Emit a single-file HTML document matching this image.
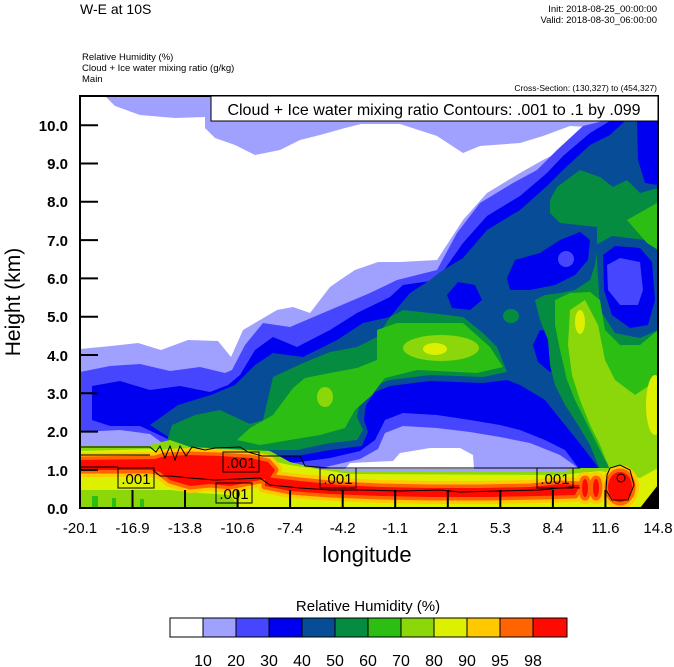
<!DOCTYPE html>
<html><head><meta charset="utf-8"><style>
html,body{margin:0;padding:0;background:#fff;}
svg{display:block;font-family:"Liberation Sans",Arial,sans-serif;}
</style></head><body>
<svg width="674" height="667" viewBox="0 0 674 667" xmlns="http://www.w3.org/2000/svg">
<defs>
<clipPath id="pc"><rect x="80" y="96" width="578" height="412"/></clipPath>
<g id="red">
<path d="M80,460 L155,459 L165,456 L190,455 L220,456 L250,458 L268,462 L275,470 L270,478 L250,482 L230,486 L210,484 L190,486 L170,480 L160,472 L150,470 L80,470Z"/>
<path d="M265,477 L300,481 L340,485 L380,487 L430,488 L480,488 L530,487 L560,484 L580,485 L575,495 L540,496 L490,497 L430,497 L380,496 L330,494 L290,491 L265,486Z"/>
<ellipse cx="620" cy="487" rx="12" ry="15"/>
<ellipse cx="585" cy="488" rx="3" ry="9"/>
<ellipse cx="596" cy="488" rx="3" ry="9"/>
</g>
</defs>
<g clip-path="url(#pc)">
<rect x="80" y="96" width="578" height="412" fill="#a0a0ff"/>
<path fill="#fff" d="M80,96 L105,96 L115,106 L140,115 L175,118 L205,117 L205,128 L215,138 L235,145 L255,155 L280,150 L300,140 L320,135 L345,128 L361,124 L400,124 L437,136 L463,153 L480,146 L520,143 L543,136 L570,126 L590,127 L575,145 L563,150 L543,160 L520,173 L487,193 L463,220 L437,260 L400,262 L378,262 L355,270 L340,280 L330,287 L310,313 L293,307 L277,310 L243,330 L231,357 L218,341 L188,340 L161,350 L138,343 L111,346 L80,349Z"/>
<!-- L30 -->
<path fill="#4646ff" d="M80,372 L110,366 L140,364 L170,371 L200,367 L225,373 L232,370 L245,345 L263,323 L290,327 L330,310 L370,293 L397,280 L437,270 L457,233 L480,203 L513,183 L537,170 L557,150 L583,126 L603,121 L658,96 L658,508 L80,508Z"/>
<path fill="#a0a0ff" d="M300,472 L330,466 L360,459 L378,449 L385,433 L403,426 L437,428 L470,432 L500,437 L530,443 L560,455 L584,472Z"/>
<path fill="#fff" d="M345,469 L350,463 L393,461 L400,453 L430,448 L460,448 L473,455 L474,469Z"/>
<path fill="#a0a0ff" d="M80,432 L120,430 L150,434 L165,445 L160,452 L80,452Z"/>
<!-- L40 -->
<path fill="#0000f0" d="M92,386 L120,381 L150,390 L180,386 L210,392 L228,385 L240,375 L255,350 L273,337 L297,347 L330,330 L357,313 L390,297 L403,285 L437,280 L463,243 L487,216 L520,196 L547,173 L563,156 L590,133 L610,121 L658,110 L658,508 L580,470 L565,450 L545,440 L520,430 L500,425 L470,420 L437,415 L403,413 L385,420 L375,440 L360,451 L330,458 L300,462 L270,465 L240,458 L200,452 L170,440 L140,426 L110,426 L92,420Z"/>
<!-- L50 -->
<path fill="#064c96" d="M150,425 L178,405 L211,395 L235,385 L255,365 L273,353 L303,357 L337,340 L363,323 L390,317 L410,293 L430,280 L440,272 L463,258 L487,230 L520,210 L547,186 L563,170 L590,145 L610,135 L625,121 L658,121 L658,508 L600,470 L585,450 L565,425 L545,400 L520,385 L507,380 L483,383 L430,381 L390,386 L375,392 L366,405 L364,420 L368,432 L362,446 L330,450 L297,456 L270,457 L250,460 L230,452 L200,445 L170,438Z"/>
<path fill="#0000f0" d="M637,120 L658,120 L658,185 L645,183 L638,160Z"/>
<path fill="#0000f0" d="M507,278 L515,260 L540,253 L560,240 L580,232 L590,240 L588,260 L575,275 L555,285 L530,290 L510,290Z"/>
<ellipse cx="566" cy="259" rx="8" ry="8" fill="#4646ff"/>
<path fill="#0000f0" d="M447,295 L458,282 L475,285 L482,300 L470,310 L452,308Z"/>
<path fill="#0000f0" d="M533,345 L540,330 L555,332 L567,350 L565,368 L550,372 L538,362Z"/>
<!-- L60 middle -->
<path fill="#058c41" d="M165,448 L172,425 L195,415 L220,410 L237,418 L250,424 L263,420 L273,377 L303,363 L330,352 L357,347 L377,337 L390,317 L403,310 L430,313 L463,317 L483,333 L497,347 L507,372 L483,377 L430,375 L390,380 L370,387 L360,400 L357,417 L363,430 L357,440 L330,443 L297,450 L270,450 L257,457 L200,452Z"/>
<ellipse cx="511" cy="316" rx="8" ry="7" fill="#058c41"/>
<!-- L60 right -->
<path fill="#058c41" d="M550,200 L557,187 L580,170 L600,177 L613,187 L627,180 L640,193 L658,188 L658,508 L600,470 L590,445 L578,425 L565,405 L555,385 L550,365 L548,340 L540,320 L535,300 L545,295 L560,293 L575,290 L590,280 L595,265 L597,247 L597,227 L560,223 L550,213Z"/>
<path fill="#064c96" d="M596,245 L612,236 L645,240 L658,250 L658,330 L640,338 L615,333 L600,310Z"/>
<path fill="#0000f0" d="M603,255 L615,246 L640,248 L652,262 L655,300 L648,325 L630,328 L612,315 L604,290Z"/>
<path fill="#4646ff" d="M607,265 L620,258 L640,262 L643,290 L638,305 L620,305 L608,290Z"/>
<!-- L70 -->
<path fill="#2dbe14" d="M237,440 L250,428 L273,415 L293,388 L305,378 L330,373 L357,368 L377,360 L377,330 L397,323 L463,323 L490,347 L503,367 L477,373 L417,370 L385,378 L372,395 L355,410 L345,428 L320,435 L290,440 L260,445Z"/>
<path fill="#2dbe14" d="M555,300 L570,293 L590,292 L600,300 L605,330 L620,345 L640,345 L658,330 L658,508 L620,480 L605,460 L595,440 L585,420 L575,400 L567,380 L560,350 L555,325Z"/>
<path fill="#2dbe14" d="M627,220 L657,203 L658,250 L647,243Z"/>
<!-- L80 -->
<ellipse cx="441" cy="348" rx="38" ry="13" fill="#8cd70a"/>
<ellipse cx="325" cy="397" rx="8" ry="10" fill="#8cd70a"/>
<path fill="#8cd70a" d="M570,310 L585,300 L598,325 L605,360 L615,380 L635,395 L650,385 L658,375 L658,508 L625,490 L610,470 L600,445 L590,425 L580,400 L572,375 L568,345Z"/>
<!-- L90 -->
<ellipse cx="435" cy="349" rx="12" ry="6" fill="#dcf000"/>
<ellipse cx="580" cy="322" rx="5" ry="12" fill="#dcf000"/>
<ellipse cx="655" cy="405" rx="9" ry="30" fill="#dcf000"/>
<!-- bottom band -->
<path fill="#8cd70a" d="M80,446 L150,445 L170,440 L190,447 L230,449 L270,451 L290,462 L320,469 L350,471 L400,471 L480,472 L560,472 L580,468 L600,468 L620,468 L658,440 L658,508 L80,508Z"/>
<path fill="#dcf000" d="M80,451 L150,449 L230,452 L290,465 L350,474 L560,475 L600,471 L620,474 L640,478 L658,468 L658,508 L240,508 L230,495 L200,493 L170,490 L130,490 L80,490Z"/>
<rect x="92" y="496" width="6" height="12" fill="#2dbe14"/>
<rect x="112" y="498" width="4" height="10" fill="#2dbe14"/>
<rect x="140" y="499" width="4" height="9" fill="#2dbe14"/>
<use href="#red" fill="#ffc800" stroke="#ffc800" stroke-width="14" stroke-linejoin="round"/>
<use href="#red" fill="#ff6400" stroke="#ff6400" stroke-width="7" stroke-linejoin="round"/>
<use href="#red" fill="#ff0a00"/>
<path fill="#000" d="M640,508 L658,485 L658,508Z"/>
<g fill="none" stroke="#000" stroke-width="1">
<path d="M80,447 L150,447 L156,452 L160,446 L165,458 L170,446 L175,460 L180,446 L186,456 L192,447 L205,450 L215,448 L240,447 L248,452 L262,456 L300,456 L305,466 L330,468 L580,468"/>
<path d="M80,467 L118,467 M153,470 L160,476 L170,476 L190,478 L215,480 L260,478 L270,485 L300,488 L330,490 L360,490 L400,491 L440,490 L460,492 L500,491 L540,490 L570,487 L580,488"/>
<path d="M80,455 L150,455 M607,475 L610,468 L620,465 L630,470 L634,485 L628,500 L612,500 L606,490Z M617,478 a4,4 0 1,0 8,0 a4,4 0 1,0 -8,0"/>
</g>
<g fill="none" stroke="#000" stroke-width="1">
<rect x="118" y="468" width="36" height="20"/>
<rect x="223" y="452" width="36" height="20"/>
<rect x="216" y="483" width="36" height="20"/>
<rect x="320" y="468" width="36" height="20"/>
<rect x="537" y="468" width="36" height="20"/>
</g>
<g font-size="15" fill="#000" text-anchor="middle">
<text x="136" y="484">.001</text>
<text x="241" y="468">.001</text>
<text x="234" y="499">.001</text>
<text x="338" y="484">.001</text>
<text x="555" y="484">.001</text>
</g>
<g stroke="#000" stroke-width="2">
<path d="M80,125.2H98 M80,163.5H98 M80,201.8H98 M80,240.1H98 M80,278.4H98 M80,316.7H98 M80,355H98 M80,393.3H98 M80,431.6H98 M80,469.9H98"/>
<path d="M132.5,508V490 M185,508V490 M237.6,508V490 M290.1,508V490 M342.7,508V490 M395.2,508V490 M447.8,508V490 M500.3,508V490 M552.9,508V490 M605.4,508V490"/>
</g>
</g>
<rect x="80" y="96" width="578" height="412" fill="none" stroke="#000" stroke-width="2"/>
<rect x="211" y="96" width="447" height="25" fill="#fff" stroke="#000" stroke-width="1"/>
<text x="434" y="115" font-size="16" text-anchor="middle">Cloud + Ice water mixing ratio Contours: .001 to .1 by .099</text>
<text x="80" y="14" font-size="14">W-E at 10S</text>
<text x="657" y="12" font-size="9.5" text-anchor="end">Init: 2018-08-25_00:00:00</text>
<text x="657" y="23" font-size="9.5" text-anchor="end">Valid: 2018-08-30_06:00:00</text>
<text x="82" y="60" font-size="9.5">Relative Humidity   (%)</text>
<text x="82" y="71" font-size="9.5">Cloud + Ice water mixing ratio   (g/kg)</text>
<text x="82" y="82" font-size="9.5">Main</text>
<text x="657" y="91" font-size="8.5" text-anchor="end">Cross-Section: (130,327) to (454,327)</text>
<g font-size="15" font-weight="bold" text-anchor="end">
<text x="68" y="131">10.0</text><text x="68" y="169">9.0</text><text x="68" y="207">8.0</text><text x="68" y="246">7.0</text><text x="68" y="284">6.0</text><text x="68" y="322">5.0</text><text x="68" y="361">4.0</text><text x="68" y="399">3.0</text><text x="68" y="437">2.0</text><text x="68" y="476">1.0</text><text x="68" y="514">0.0</text>
</g>
<g font-size="15" text-anchor="middle">
<text x="80" y="533">-20.1</text><text x="132.5" y="533">-16.9</text><text x="185" y="533">-13.8</text><text x="237.6" y="533">-10.6</text><text x="290.1" y="533">-7.4</text><text x="342.7" y="533">-4.2</text><text x="395.2" y="533">-1.1</text><text x="447.8" y="533">2.1</text><text x="500.3" y="533">5.3</text><text x="552.9" y="533">8.4</text><text x="605.4" y="533">11.6</text><text x="658" y="533">14.8</text>
</g>
<text x="367" y="562" font-size="22" text-anchor="middle">longitude</text>
<text transform="translate(20,302) rotate(-90)" font-size="21" text-anchor="middle">Height (km)</text>
<text x="368" y="611" font-size="15" text-anchor="middle">Relative Humidity  (%)</text>
<g stroke="#000" stroke-width="1">
<rect x="170" y="618" width="33" height="19" fill="#ffffff"/>
<rect x="203" y="618" width="33" height="19" fill="#a0a0ff"/>
<rect x="236" y="618" width="33" height="19" fill="#4646ff"/>
<rect x="269" y="618" width="33" height="19" fill="#0000f0"/>
<rect x="302" y="618" width="33" height="19" fill="#064c96"/>
<rect x="335" y="618" width="33" height="19" fill="#058c41"/>
<rect x="368" y="618" width="33" height="19" fill="#2dbe14"/>
<rect x="401" y="618" width="33" height="19" fill="#8cd70a"/>
<rect x="434" y="618" width="33" height="19" fill="#dcf000"/>
<rect x="467" y="618" width="33" height="19" fill="#ffc800"/>
<rect x="500" y="618" width="33" height="19" fill="#ff6400"/>
<rect x="533" y="618" width="34" height="19" fill="#ff0a00"/>
</g>
<g font-size="16" text-anchor="middle">
<text x="203" y="666">10</text><text x="236" y="666">20</text><text x="269" y="666">30</text><text x="302" y="666">40</text><text x="335" y="666">50</text><text x="368" y="666">60</text><text x="401" y="666">70</text><text x="434" y="666">80</text><text x="467" y="666">90</text><text x="500" y="666">95</text><text x="533" y="666">98</text>
</g>
</svg>
</body></html>
